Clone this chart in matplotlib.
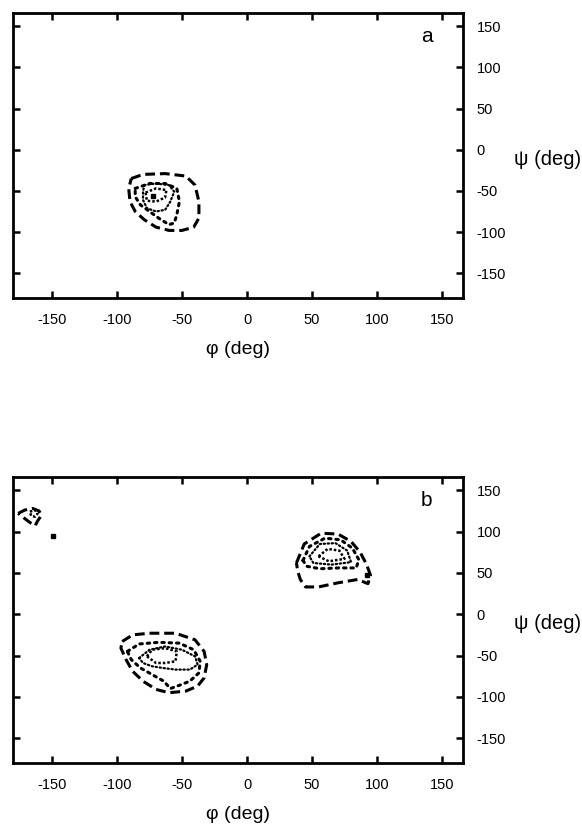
import matplotlib
matplotlib.use("Agg")
import matplotlib.pyplot as plt
import numpy as np

plt.rcParams['font.family'] = ['Liberation Sans', 'DejaVu Sans']
plt.rcParams['axes.unicode_minus'] = False

# contour outlines, (phi, psi) in degrees
a_outer = [(-89, -35), (-80, -30), (-63, -29), (-47, -32), (-40, -43), (-37, -63),
           (-37, -83), (-41, -94), (-50, -98), (-60, -98), (-70, -94), (-79, -85),
           (-86, -75), (-90, -63), (-91, -47)]
a_mid = [(-86, -47), (-75, -41), (-63, -41), (-54, -47), (-52, -63), (-54, -79),
         (-56, -89), (-60, -91), (-68, -83), (-75, -75), (-82, -67), (-86, -57)]
a_inner = [(-79, -43), (-70, -41), (-60, -43), (-56, -51), (-59, -63), (-63, -73),
           (-70, -75), (-77, -71), (-80, -61), (-80, -51)]
a_core = [(-78, -52), (-70, -47), (-62, -49), (-63, -58), (-70, -63), (-77, -62)]

b1_outer = [(-96, -33), (-88, -25), (-75, -23), (-55, -23), (-40, -31), (-33, -45),
            (-31, -61), (-33, -77), (-38, -87), (-47, -93), (-60, -95), (-70, -91),
            (-80, -81), (-88, -69), (-93, -55), (-97, -41)]
b1_mid = [(-92, -45), (-83, -36), (-68, -34), (-52, -35), (-41, -43), (-36, -57),
          (-37, -71), (-44, -81), (-52, -86), (-59, -90), (-64, -81), (-73, -73),
          (-82, -65), (-89, -55)]
b1_inner = [(-83, -53), (-75, -43), (-63, -39), (-50, -43), (-40, -51), (-38, -61),
            (-44, -67), (-55, -67), (-65, -65), (-73, -63), (-80, -59)]
b1_core = [(-77, -51), (-73, -43), (-63, -41), (-54, -45), (-55, -57), (-63, -59),
           (-70, -59)]

b2_outer = [(38, 62), (44, 85), (57, 98), (70, 97), (80, 88), (87, 75), (92, 60),
            (95, 47), (93, 37), (85, 42), (70, 38), (55, 33), (45, 33), (41, 42),
            (39, 52)]
b2_mid = [(43, 65), (48, 82), (60, 92), (72, 90), (81, 80), (86, 66), (84, 56),
          (70, 56), (56, 55), (46, 58)]
b2_inner = [(48, 70), (56, 85), (68, 86), (77, 77), (80, 63), (65, 60), (51, 62)]
b2_core = [(55, 70), (62, 79), (71, 77), (75, 67), (63, 64)]

b3_outer = [(-176, 122), (-171, 126), (-165, 128), (-160, 125), (-158, 120),
            (-161, 113), (-163, 107), (-167, 111), (-172, 117)]
b3_inner = [(-167, 124), (-163, 126), (-161, 122), (-163, 118), (-166, 119)]

spots_a = [(-72, -56)]
spots_b = [(-149, 95), (92, 47)]

ticks = [-150, -100, -50, 0, 50, 100, 150]


def closed(pts):
    arr = np.array(pts + [pts[0]], dtype=float)
    return arr[:, 0], arr[:, 1]


def draw_level(ax, pts, style):
    x, y = closed(pts)
    if style == 'outer':
        ax.plot(x, y, color='black', lw=2.2, dashes=(3.2, 1.6))
    elif style == 'mid':
        ax.plot(x, y, color='black', lw=2.2, dashes=(0.8, 1.6), dash_capstyle='round')
    elif style == 'inner':
        ax.plot(x, y, color='black', lw=1.6, dashes=(0.6, 1.2), dash_capstyle='round')
    else:
        ax.plot(x, y, color='black', lw=1.8, dashes=(1.0, 0.8))


def setup(ax, letter):
    ax.set_xlim(-180, 166)
    ax.set_ylim(-180, 166)
    ax.set_xticks(ticks)
    ax.set_yticks(ticks)
    ax.yaxis.tick_right()
    ax.tick_params(direction='in', length=5, width=1.8, labelsize=10.5,
                   top=True, bottom=True, left=True, right=True,
                   labelleft=False, labelright=True)
    ax.tick_params(axis='x', pad=11)
    ax.tick_params(axis='y', pad=10)
    for s in ax.spines.values():
        s.set_linewidth(2)
    ax.set_xlabel('φ (deg)', fontsize=14, labelpad=10)
    ax.set_ylabel('ψ (deg)', fontsize=14.5, rotation=0, ha='left', va='center')
    ax.yaxis.set_label_position('right')
    ax.yaxis.set_label_coords(1.113, 180 / 346)
    ax.text(138, 138, letter, fontsize=15, ha='center', va='center')


fig = plt.figure(figsize=(5.82, 8.27), dpi=100)
ax_a = fig.add_axes([0.0223, 0.6397, 0.773, 0.3446])
ax_b = fig.add_axes([0.0223, 0.0774, 0.773, 0.3458])

draw_level(ax_a, a_outer, 'outer')
draw_level(ax_a, a_mid, 'mid')
draw_level(ax_a, a_inner, 'inner')
draw_level(ax_a, a_core, 'core')
for p in spots_a:
    ax_a.plot(p[0], p[1], 'ks', ms=2.5)
setup(ax_a, 'a')

for grp in [(b1_outer, b1_mid, b1_inner, b1_core), (b2_outer, b2_mid, b2_inner, b2_core)]:
    draw_level(ax_b, grp[0], 'outer')
    draw_level(ax_b, grp[1], 'mid')
    draw_level(ax_b, grp[2], 'inner')
    draw_level(ax_b, grp[3], 'core')
draw_level(ax_b, b3_outer, 'outer')
draw_level(ax_b, b3_inner, 'core')
for p in spots_b:
    ax_b.plot(p[0], p[1], 'ks', ms=3)
setup(ax_b, 'b')

fig.savefig('out.png', dpi=100)
